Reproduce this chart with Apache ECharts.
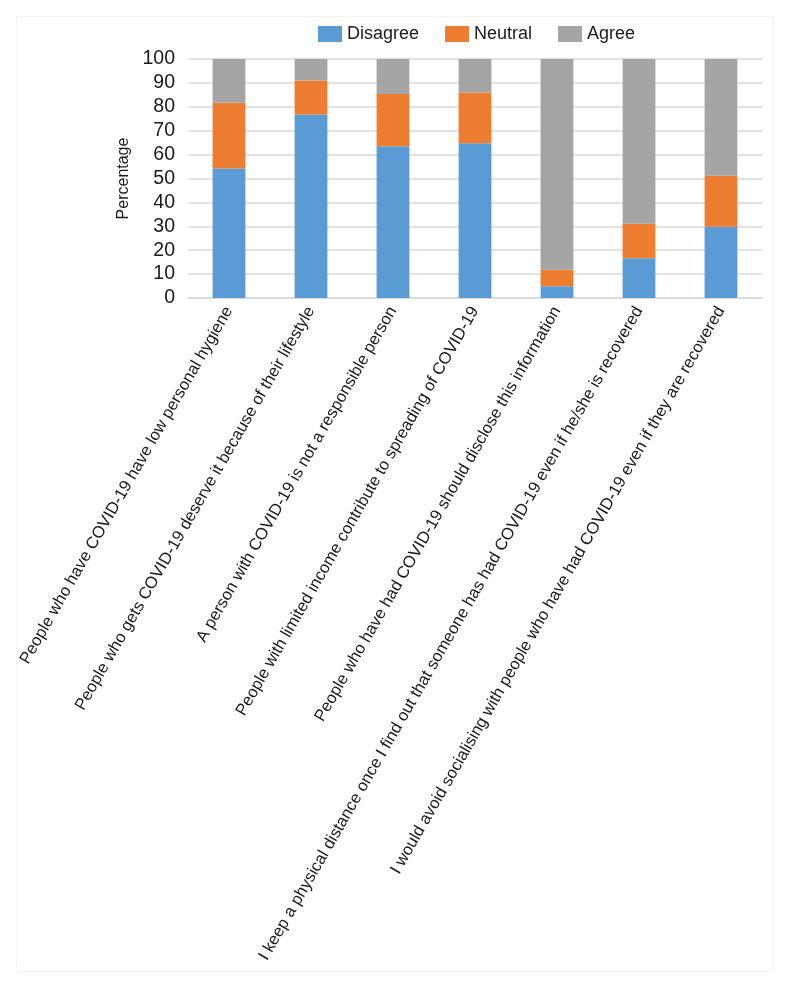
<!DOCTYPE html>
<html>
<head>
<meta charset="utf-8">
<script src="https://cdn.jsdelivr.net/npm/echarts@6/dist/echarts.min.js"></script>
<style>
html,body{margin:0;padding:0;background:#fff;}
#chart{width:788px;height:985px;}
</style>
</head>
<body>
<div id="chart"></div>
<script>
var categories = [
  "People who have COVID-19 have low personal hygiene",
  "People who gets COVID-19 deserve it because of their lifestyle",
  "A person with COVID-19 is not a responsible person",
  "People with limited income contribute to spreading of COVID-19",
  "People who have had COVID-19 should disclose this information",
  "I keep a physical distance once I find out that someone has had COVID-19 even if he/she is recovered",
  "I would avoid socialising with people who have had COVID-19 even if they are recovered"
];
var disagree = [54.2, 76.8, 63.5, 64.8, 4.9, 16.6, 29.8];
var neutral  = [27.5, 14.2, 21.9, 21.2, 6.9, 14.5, 21.4];
var agree    = [18.3, 9.0, 14.6, 14.0, 88.2, 68.9, 48.8];
var yTicks = [0, 10, 20, 30, 40, 50, 60, 70, 80, 90, 100];

var font = "'Liberation Sans', Arial, sans-serif";
var chart = echarts.init(document.getElementById('chart'), null, {renderer: 'canvas'});
chart.setOption({
  backgroundColor: '#ffffff',
  animation: false,
  graphic: [{
    type: 'rect', left: 14, top: 14, silent: true,
    shape: {width: 757, height: 955},
    style: {fill: 'none', stroke: '#f4f4ea', lineWidth: 1}
  }],
  legend: {
    top: 20, left: 313,
    itemWidth: 24, itemHeight: 16, itemGap: 26,
    icon: 'rect',
    textStyle: {fontFamily: font, fontSize: 18, color: '#1a1a1a'},
    data: ['Disagree', 'Neutral', 'Agree']
  },
  grid: {left: 188, right: 26, top: 59, bottom: 687, containLabel: false},
  xAxis: {
    type: 'category',
    data: categories,
    axisLine: {show: true, lineStyle: {color: '#d9d9d9', width: 1.5}},
    axisTick: {show: false},
    axisLabel: {
      interval: 0, rotate: 60, margin: 10,
      fontFamily: font, fontSize: 16.6, color: '#1a1a1a'
    }
  },
  yAxis: {
    type: 'value',
    min: yTicks[0], max: yTicks[yTicks.length - 1], interval: 10,
    name: 'Percentage', nameLocation: 'middle', nameGap: 54, nameRotate: 90,
    nameTextStyle: {fontFamily: font, fontSize: 16, color: '#1a1a1a'},
    axisLine: {show: false},
    axisTick: {show: false},
    axisLabel: {margin: 13, fontFamily: font, fontSize: 19.5, color: '#1a1a1a'},
    splitLine: {lineStyle: {color: '#d9d9d9', width: 1.5}}
  },
  series: [
    {name: 'Disagree', type: 'bar', stack: 's', data: disagree, barWidth: '40%', itemStyle: {color: '#5b9bd5'}},
    {name: 'Neutral', type: 'bar', stack: 's', data: neutral, itemStyle: {color: '#ed7d31'}},
    {name: 'Agree', type: 'bar', stack: 's', data: agree, itemStyle: {color: '#a5a5a5'}}
  ]
});
</script>
</body>
</html>
